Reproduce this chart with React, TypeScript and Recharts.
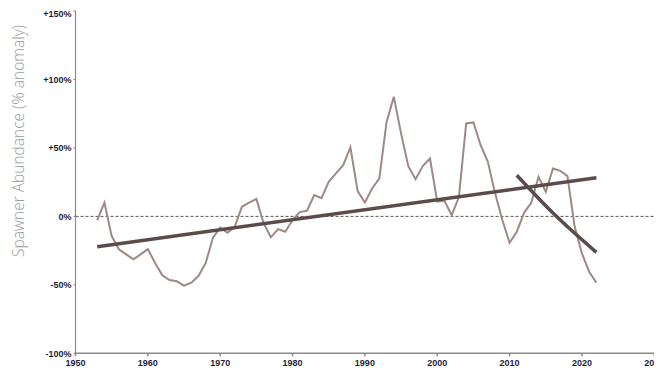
import React from "react";
import { LineChart, Line, XAxis, YAxis, ReferenceLine } from "recharts";

const years = [
  1953, 1954, 1955, 1956, 1957, 1958, 1959, 1960, 1961, 1962, 1963, 1964, 1965, 1966, 1967, 1968, 1969,
  1970, 1971, 1972, 1973, 1974, 1975, 1976, 1977, 1978, 1979, 1980, 1981, 1982, 1983, 1984, 1985, 1986,
  1987, 1988, 1989, 1990, 1991, 1992, 1993, 1994, 1995, 1996, 1997, 1998, 1999, 2000, 2001, 2002, 2003,
  2004, 2005, 2006, 2007, 2008, 2009, 2010, 2011, 2012, 2013, 2014, 2015, 2016, 2017, 2018, 2019, 2020,
  2021, 2022,
];
const abundance = [
  -2.7, 10, -14.4, -24, -27.7, -31.4, -27.7, -23.9, -34, -43, -46.5, -47.4, -50.6, -48.4, -43.6, -34, -15.5,
  -8.3, -12, -7.6, 7, 10, 12.8, -5, -15.3, -9.3, -11.2, -2.7, 3.1, 4.1, 15.5, 13.3, 25.3, 31.4,
  37.4, 50.4, 18.5, 10.2, 20.4, 27.7, 69, 87.3, 60.6, 36.7, 27.2, 36.7, 42.3, 10.7, 11.4, 0.8, 14.3,
  67.9, 68.6, 52, 39.9, 16.8, -2.7, -19.3, -11.2, 2.6, 10, 28.9, 18, 35, 33.3, 29.4, -7.6, -27,
  -40.4, -48.5,
];
const trendYears = [1953, 2022];
const trendValues = [-22.2, 28.2];
const recentYears = [2011, 2016, 2022];
const recentValues = [30, 2.4, -26.3];

const xTicks = [1950, 1960, 1970, 1980, 1990, 2000, 2010, 2020, 2030];
const yTicks = [-100, -50, 0, 50, 100, 150];
const yTitle = "Spawner Abundance (% anomaly)";

const seriesData = years.map((year, i) => ({ year, value: abundance[i] }));
const trendData = trendYears.map((year, i) => ({ year, value: trendValues[i] }));
const recentData = recentYears.map((year, i) => ({ year, value: recentValues[i] }));

const fmtY = (v: number) => (v > 0 ? `+${v}%` : `${v}%`);

const tickFont = {
  fontFamily: "'Liberation Sans', Arial, sans-serif",
  fontSize: 9,
  fontWeight: 700,
  fill: "#1e1f3a",
};

const XTick = (props: any) => {
  const { x, y, payload } = props;
  return (
    <text x={x} y={y + 9} textAnchor="middle" style={tickFont}>
      {payload.value}
    </text>
  );
};

const YTick = (props: any) => {
  const { x, y, payload } = props;
  const isTop = payload.value === 150;
  return (
    <text
      x={x}
      y={y + (isTop ? 3 : 0.5)}
      textAnchor="end"
      dominantBaseline="central"
      style={tickFont}
    >
      {fmtY(payload.value)}
    </text>
  );
};

const YTitle = () => {
  const cx = 10;
  const cy = 133;
  return (
    <text
      x={cx}
      y={cy}
      transform={`rotate(-90, ${cx}, ${cy})`}
      textAnchor="middle"
      dominantBaseline="central"
      style={{
        fontFamily: "'Open Sans', 'DejaVu Sans', sans-serif",
        fontSize: 15.5,
        fontWeight: 300,
        fill: "#9a9a9a",
      }}
    >
      {yTitle}
    </text>
  );
};

export default function App() {
  return (
    <div style={{ width: 654, height: 366 }}>
      <LineChart width={654} height={366} margin={{ top: 3, right: 0.5, left: 0, bottom: 0 }}>
        <XAxis
          dataKey="year"
          type="number"
          domain={[1950, 2031]}
          ticks={xTicks}
          allowDataOverflow
          interval={0}
          height={20.7}
          tickSize={3}
          tickMargin={1}
          tick={<XTick />}
          stroke="#8a8a8a"
          strokeWidth={1.5}
          tickLine={{ stroke: "#8a8a8a" }}
        />
        <YAxis
          type="number"
          domain={[-100, 150]}
          ticks={yTicks}
          interval={0}
          width={67.5}
          tickSize={2}
          tickMargin={2}
          tick={<YTick />}
          stroke="#8a8a8a"
          strokeWidth={1.2}
          label={<YTitle />}
        />
        <ReferenceLine y={0} stroke="#555" strokeDasharray="3 2" strokeWidth={1} />
        <Line
          data={seriesData}
          dataKey="value"
          type="linear"
          stroke="#9d8a86"
          strokeWidth={2}
          dot={false}
          isAnimationActive={false}
        />
        <Line
          data={trendData}
          dataKey="value"
          type="linear"
          stroke="#5b4c4b"
          strokeWidth={3.5}
          dot={false}
          isAnimationActive={false}
        />
        <Line
          data={recentData}
          dataKey="value"
          type="monotone"
          stroke="#5b4c4b"
          strokeWidth={3.5}
          dot={false}
          isAnimationActive={false}
        />
      </LineChart>
    </div>
  );
}
